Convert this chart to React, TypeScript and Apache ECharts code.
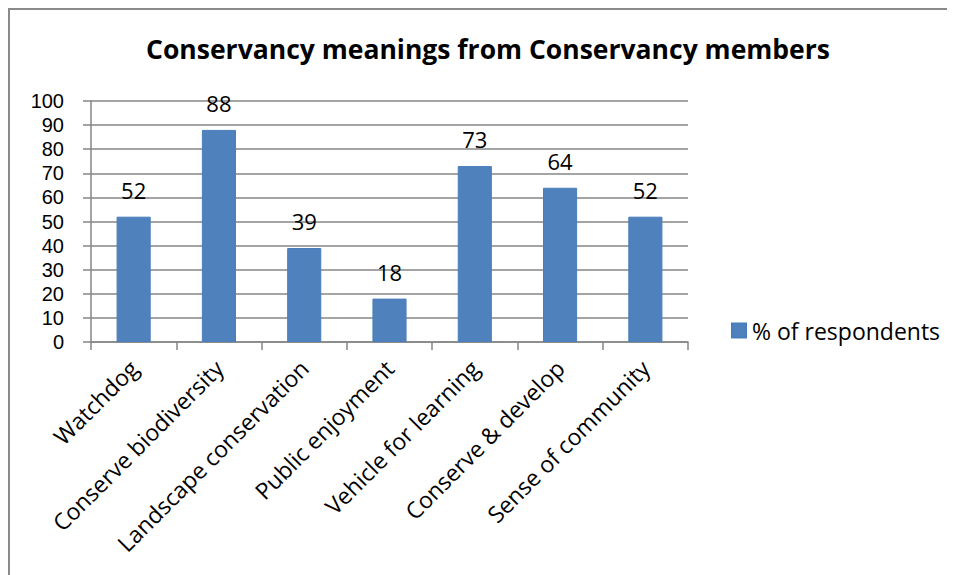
import React, { useEffect, useRef } from "react";
import * as echarts from "echarts";

const categories = [
  "Watchdog",
  "Conserve biodiversity",
  "Landscape conservation",
  "Public enjoyment",
  "Vehicle for learning",
  "Conserve & develop",
  "Sense of community",
];
const seriesName = "% of respondents";
const values = [52, 88, 39, 18, 73, 64, 52];
const titleText = "Conservancy meanings from Conservancy members";

const FONT = "'Open Sans', sans-serif";
const NUM_FONT = "'Liberation Sans', Arial, sans-serif";

export default function App() {
  const ref = useRef<HTMLDivElement>(null);
  useEffect(() => {
    if (!ref.current) return;
    const chart = echarts.init(ref.current, undefined, { renderer: "svg" });
    chart.setOption({
      animation: false,
      backgroundColor: "#ffffff",
      textStyle: { fontFamily: FONT },
      title: {
        text: titleText,
        left: "center",
        top: 20,
        textStyle: { fontFamily: FONT, fontWeight: "bold", fontSize: 26.5, color: "#000" },
      },
      legend: {
        data: [seriesName],
        left: 716,
        top: 304,
        padding: 5,
        itemWidth: 14,
        itemHeight: 14,
        itemGap: 5,
        icon: "rect",
        textStyle: { fontFamily: FONT, fontSize: 23, color: "#000", padding: [0, 0, 0, 1] },
      },
      grid: { left: 81, top: 91, width: 597, height: 241, containLabel: false },
      xAxis: {
        type: "category",
        data: categories,
        axisLine: { lineStyle: { color: "#868686", width: 1.5 } },
        axisTick: { show: true, length: 8, lineStyle: { color: "#868686", width: 1.5 } },
        axisLabel: {
          rotate: 45,
          interval: 0,
          margin: 22,
          fontFamily: FONT,
          fontSize: 23,
          color: "#000",
        },
      },
      yAxis: {
        type: "value",
        min: 0,
        max: 100,
        interval: 10,
        axisLine: { show: true, lineStyle: { color: "#868686", width: 1.5 } },
        axisTick: { show: true, length: 8, lineStyle: { color: "#868686", width: 1.5 } },
        splitLine: { show: true, lineStyle: { color: "#868686", width: 1.5 } },
        axisLabel: {
          margin: 27,
          fontFamily: NUM_FONT,
          fontSize: 20,
          lineHeight: 20,
          color: "#000",
        },
      },
      series: [
        {
          name: seriesName,
          type: "bar",
          data: values,
          barWidth: "40%",
          itemStyle: { color: "#4F81BD", borderColor: "#4A7EBB", borderWidth: 1 },
          label: {
            show: true,
            position: "top",
            distance: 16,
            fontFamily: FONT,
            fontSize: 22,
            color: "#000",
          },
        },
      ],
    });
    return () => chart.dispose();
  }, []);
  return (
    <div
      style={{
        width: 960,
        height: 580,
        border: "2px solid #8a8a8a",
        boxSizing: "border-box",
        background: "#fff",
      }}
    >
      <div ref={ref} style={{ width: 956, height: 576 }} />
    </div>
  );
}
